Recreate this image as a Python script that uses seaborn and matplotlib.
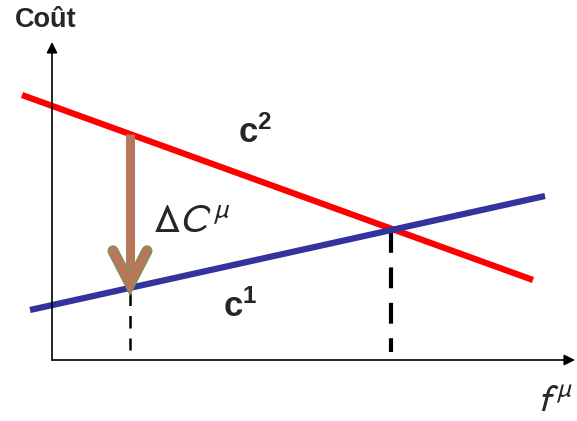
import numpy as np
import pandas as pd
import matplotlib
matplotlib.use("Agg")
import matplotlib.pyplot as plt
import matplotlib.patheffects as pe
import seaborn as sns

sns.set_style("white")
plt.rcParams['font.family'] = ['Liberation Sans', 'DejaVu Sans']
plt.rcParams['mathtext.fontset'] = 'custom'
plt.rcParams['mathtext.rm'] = 'Liberation Sans'
plt.rcParams['mathtext.bf'] = 'Liberation Sans:bold'
plt.rcParams['mathtext.it'] = 'Liberation Sans:italic'

# schematic cost curves (flow on x, cost on y)
f_c2 = [-30, 481]
cost_c2 = [265, 80]
f_c1 = [-22, 493]
cost_c1 = [50, 164]

# where the cost drop is shown, and where the curves cross
f_shift = 78
f_cross = 339

RED = "#FF0000"
BLUE = "#33339E"
BROWN = "#B7775A"

lines = pd.concat([
    pd.DataFrame({"f": f_c2, "cost": cost_c2, "curve": "c2"}),
    pd.DataFrame({"f": f_c1, "cost": cost_c1, "curve": "c1"}),
])

fig = plt.figure(figsize=(5.77, 4.21), dpi=100)
ax = fig.add_axes([0, 0, 1, 1])
ax.set_xlim(-52, 525)
ax.set_ylim(-61, 360)
ax.axis("off")

# axes with arrows
ax.annotate("", xy=(0, 318), xytext=(0, 0),
            arrowprops=dict(arrowstyle="-|>", lw=1.2, color="black",
                            mutation_scale=16, shrinkA=0, shrinkB=0))
ax.annotate("", xy=(523, 0), xytext=(0, 0),
            arrowprops=dict(arrowstyle="-|>", lw=1.2, color="black",
                            mutation_scale=16, shrinkA=0, shrinkB=0))

# dashed drop lines
y_top_c1 = np.interp(f_shift, f_c1, cost_c1)
y_cross = np.interp(f_cross, f_c1, cost_c1)
ax.plot([f_shift, f_shift], [y_top_c1 - 5, 10], color="black", lw=1.8,
        ls=(0, (5, 4)))
ax.plot([f_cross, f_cross], [y_cross - 2, 8], color="black", lw=3.0,
        ls=(0, (5, 3.5)))

sns.lineplot(data=lines, x="f", y="cost", hue="curve",
             palette={"c2": RED, "c1": BLUE}, lw=4.5, legend=False,
             ax=ax, solid_capstyle="butt", sort=False, estimator=None)

# brown arrow from c2 down to c1
y_top_c2 = np.interp(f_shift, f_c2, cost_c2)
ax.plot([f_shift, f_shift], [y_top_c2, y_top_c1 + 14], color=BROWN, lw=6.5,
        solid_capstyle="butt", zorder=5)
ax.plot([f_shift - 17, f_shift, f_shift + 17],
        [y_top_c1 + 37, y_top_c1 + 4, y_top_c1 + 37],
        color=BROWN, lw=7, solid_capstyle="round", solid_joinstyle="miter",
        zorder=6,
        path_effects=[pe.Stroke(linewidth=8.0, foreground="#4CAF50"), pe.Normal()])

# labels
ax.text(-37, 340, "Coût", fontsize=19.5, fontweight="bold", ha="left", va="center")
ax.text(186, 217, r"$\mathbf{c}^{\mathbf{2}}$", fontsize=25, ha="left", va="baseline")
ax.text(171, 43, r"$\mathbf{c}^{\mathbf{1}}$", fontsize=25, ha="left", va="baseline")
ax.text(101, 127, r"$\Delta C^{\mu}$", fontsize=29, ha="left", va="baseline",
        math_fontfamily="stixsans")
ax.text(485, -52, r"$f^{\mu}$", fontsize=28, ha="left", va="baseline",
        math_fontfamily="stixsans")

fig.savefig("out.png", dpi=100)
